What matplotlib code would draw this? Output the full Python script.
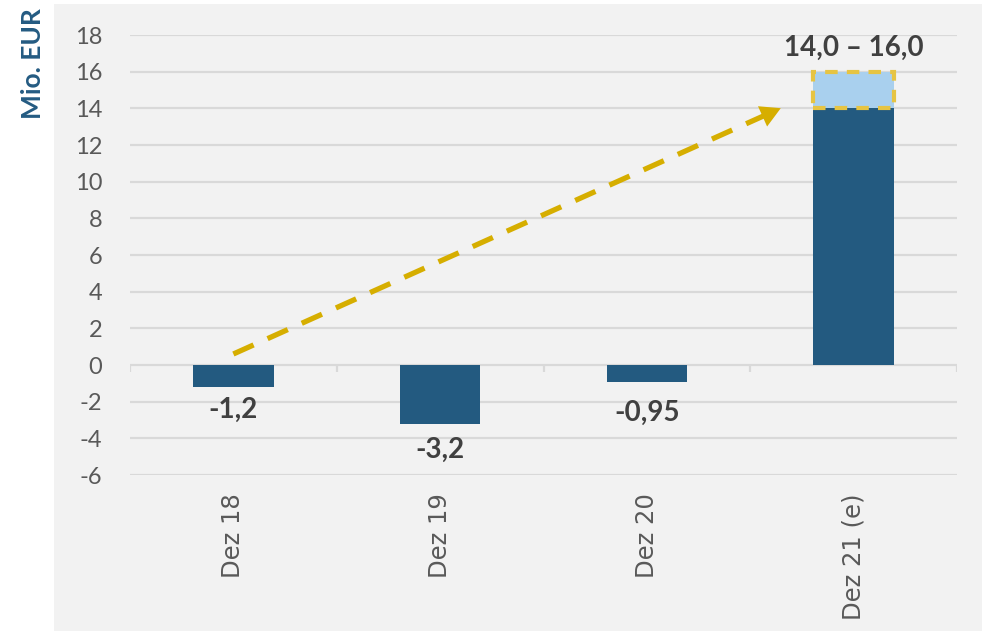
import matplotlib.pyplot as plt
from matplotlib.patches import Rectangle

categories = ['Dez 18', 'Dez 19', 'Dez 20', 'Dez 21 (e)']
values = [-1.2, -3.2, -0.95, 14.0]
labels = ['-1,2', '-3,2', '-0,95', '14,0 – 16,0']
range_low = 14.0
range_high = 16.0
arrow_start = [0, 0.6]
arrow_end = [2.66, 14.07]
yticks = list(range(-6, 19, 2))

# label baseline offsets (points) from the bar end
label_offsets = [-22.3, -24.5, -28, 11.5]

dark_blue = '#235a80'
light_blue = '#a9d0ee'
gold = '#d6ae00'
gold_light = '#e6c443'
panel = '#f2f2f2'
grid = '#d9d9d9'

fig = plt.figure(figsize=(9.82, 6.31), dpi=100)
fig.patches.append(Rectangle((54 / 982, 0), 1 - 54 / 982, 1 - 4 / 631,
                             transform=fig.transFigure, facecolor=panel,
                             edgecolor='none', zorder=-10))

ax = fig.add_axes([130 / 982, (631 - 475) / 631, 827 / 982, 440 / 631])
ax.set_zorder(1)
ax.set_facecolor(panel)
for s in ax.spines.values():
    s.set_visible(False)

ax.set_ylim(-6, 18)
ax.set_xlim(-0.5, 3.5)
ax.set_yticks(yticks)
ax.set_yticklabels([str(t) for t in yticks], fontfamily='Lato', fontsize=17, color='#595959')
ax.tick_params(axis='y', length=0, pad=20)
ax.yaxis.grid(True, color=grid, linewidth=1.6)
ax.set_axisbelow(True)

x = list(range(len(categories)))
w = 0.39
ax.bar(x, values, width=w, color=dark_blue, zorder=2)
ax.bar(3, range_high - range_low, bottom=range_low, width=w, color=light_blue, zorder=2)
ax.add_patch(Rectangle((3 - w / 2, range_low), w, range_high - range_low, fill=False,
                       edgecolor=gold_light, linewidth=3, linestyle=(0, (3, 2.2)), zorder=3))

# small ticks on the zero line between categories
ax.vlines([-0.5, 0.5, 1.5, 2.5, 3.5], -0.4, 0, color=grid, linewidth=1.6, zorder=1)

ax.set_xticks(x)
ax.set_xticklabels(categories, rotation=90, fontfamily='DejaVu Sans', fontsize=17.5,
                   color='#595959', va='top')
ax.tick_params(axis='x', length=0, pad=13)

for i, (v, lab) in enumerate(zip(values, labels)):
    yref = v if v < 0 else range_high
    ax.annotate(lab, (i, yref), xytext=(0, label_offsets[i]), textcoords='offset points',
                ha='center', va='baseline', fontsize=20, fontweight='bold',
                fontfamily='Lato', color='#404040', zorder=4)

# dashed trend arrow
dx = arrow_end[0] - arrow_start[0]
dy = arrow_end[1] - arrow_start[1]
f = 0.975
ax.plot([arrow_start[0], arrow_start[0] + dx * f], [arrow_start[1], arrow_start[1] + dy * f],
        color=gold, linewidth=3.8, dashes=(4.2, 2.9), solid_capstyle='butt',
        dash_capstyle='butt', zorder=3)
ax.annotate('', xy=arrow_end, xytext=(arrow_start[0] + dx * 0.96, arrow_start[1] + dy * 0.96),
            arrowprops=dict(arrowstyle='-|>,head_length=0.9,head_width=0.5',
                            color=gold, linewidth=0, mutation_scale=16), zorder=3)

fig.text(33 / 982, 1 - 8 / 631, 'Mio. EUR', rotation=90, ha='center', va='top',
         fontsize=19, fontweight='bold', fontfamily='Lato', color='#245b82')

fig.savefig('out.png', dpi=100)
